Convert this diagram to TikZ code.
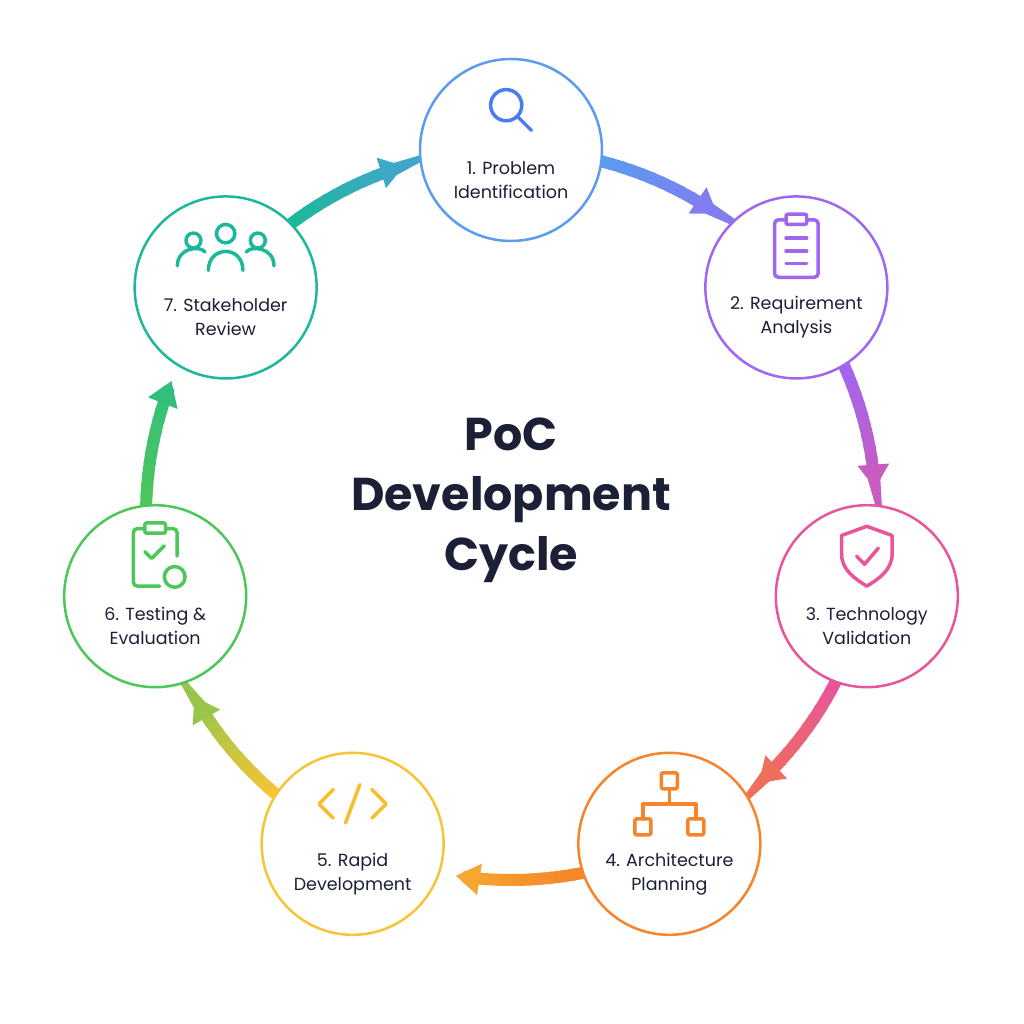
\documentclass[tikz,border=0pt]{standalone}
\usepackage{fontspec}
\setmainfont{Poppins}
\usetikzlibrary{arrows.meta}
\definecolor{c1}{HTML}{5B9BF0}
\definecolor{c2}{HTML}{A066F0}
\definecolor{c3}{HTML}{E8559A}
\definecolor{c4}{HTML}{F5842A}
\definecolor{c5}{HTML}{F7C436}
\definecolor{c6}{HTML}{4CC75A}
\definecolor{c7}{HTML}{1DB89A}
\definecolor{ink}{HTML}{1B2036}
\tikzset{
 stage/.style={circle,draw=#1,line width=2.5pt,fill=white,minimum size=182pt,inner sep=0pt},
 lbl/.style={font=\fontsize{17.5}{24}\selectfont,text=ink,align=center},
 ico/.style={line width=3.5pt,line cap=round,line join=round,draw=#1},
}
\begin{document}
\begin{tikzpicture}[x=1pt,y=1pt]
\fill[white] (0,0) rectangle (1024,1024);
\useasboundingbox (0,0) rectangle (1024,1024);
\coordinate (C) at (511,509);
\def\R{365}
% gradient arrows
\foreach \k in {1,...,7}{
  \pgfmathtruncatemacro\nk{mod(\k,7)+1}
  \pgfmathsetmacro\sa{90-(\k-1)*51.4286-14}
  \pgfmathsetmacro\ea{90-\k*51.4286+17}
  \foreach \i in {0,...,11}{
    \pgfmathsetmacro\aa{\sa+(\ea-\sa)*\i/12}
    \pgfmathsetmacro\bb{\sa+(\ea-\sa)*(\i+1)/12}
    \pgfmathtruncatemacro\p{55*\i/11}
    \ifnum\i<11
      \draw[line width=12pt,color=c\nk!\p!c\k] ([shift={(C)}]\aa:\R) arc[start angle=\aa,end angle=\bb-0.4,radius=\R];
    \else
      \draw[line width=12pt,color=c\nk!\p!c\k,-{Triangle[length=24pt,width=30pt]}] ([shift={(C)}]\aa:\R) arc[start angle=\aa,end angle=\bb,radius=\R];
    \fi
  }
}
% stages
\foreach \k/\t in {1/{1. Problem\\Identification},2/{2. Requirement\\Analysis},3/{3. Technology\\Validation},4/{4. Architecture\\Planning},5/{5. Rapid\\Development},6/{6. Testing \&\\Evaluation},7/{7. Stakeholder\\Review}}{
  \pgfmathsetmacro\ang{90-(\k-1)*51.4286}
  \node[stage=c\k] (n\k) at ([shift={(C)}]\ang:\R) {};
  \node[lbl] (t\k) at ([yshift=-30pt]n\k.center) {\t};
}
\node[font=\bfseries\fontsize{46}{60}\selectfont,text=ink,align=center] (title) at (511,524) {PoC\\Development\\Cycle};
% icons
\begin{scope}[shift={([yshift=40pt]n1.center)},scale=1.2]
 \draw[ico=c1!80!blue] (-4,4) circle (13);
 \draw[ico=c1!80!blue] (6,-6) -- (17,-17);
\end{scope}
\begin{scope}[shift={([yshift=40pt]n2.center)},scale=1.15]
 \draw[ico=c2,rounded corners=4pt] (-19,24) rectangle (19,-26);
 \draw[ico=c2,fill=white,rounded corners=2pt] (-9,29) rectangle (9,20);
 \draw[ico=c2] (-9,8) -- (9,8) (-9,-3) -- (9,-3) (-9,-14) -- (9,-14);
\end{scope}
\begin{scope}[shift={([yshift=40pt]n3.center)},scale=1.15]
 \draw[ico=c3] (0,26) -- (22,18) -- (22,2) .. controls (22,-12) and (10,-20) .. (0,-26) .. controls (-10,-20) and (-22,-12) .. (-22,2) -- (-22,18) -- cycle;
 \draw[ico=c3] (-9,0) -- (-2,-7) -- (10,7);
\end{scope}
\begin{scope}[shift={([yshift=40pt]n4.center)},scale=1.15]
 \draw[ico=c4,rounded corners=2pt] (-7,13) rectangle (7,27) (-30,-13) rectangle (-16,-27) (16,-13) rectangle (30,-27);
 \draw[ico=c4] (0,13) -- (0,0) (-23,-13) -- (-23,0) -- (23,0) -- (23,-13);
\end{scope}
\begin{scope}[shift={([yshift=40pt]n5.center)},scale=1.2]
 \draw[ico=c5!90!orange] (-16,12) -- (-28,0) -- (-16,-12);
 \draw[ico=c5!90!orange] (16,12) -- (28,0) -- (16,-12);
 \draw[ico=c5!90!orange] (6,16) -- (-6,-16);
\end{scope}
\begin{scope}[shift={([yshift=40pt]n6.center)},scale=1.15]
 \draw[ico=c6,rounded corners=4pt] (4,-26) -- (-19,-26) -- (-19,24) -- (19,24) -- (19,0);
 \draw[ico=c6,fill=white,rounded corners=2pt] (-9,29) rectangle (9,20);
 \draw[ico=c6] (-9,4) -- (-3,-2) -- (8,9);
 \draw[ico=c6,fill=white] (17,-18) circle (9);
\end{scope}
\begin{scope}[shift={([yshift=40pt]n7.center)},scale=1.15]
 \draw[ico=c7] (0,12) circle (8) (-28,6) circle (6.5) (28,6) circle (6.5);
 \draw[ico=c7] (-15,-20) .. controls (-15,2) and (15,2) .. (15,-20);
 \draw[ico=c7] (-42,-16) .. controls (-42,0) and (-22,2) .. (-18,-4);
 \draw[ico=c7] (42,-16) .. controls (42,0) and (22,2) .. (18,-4);
\end{scope}
\end{tikzpicture}
\end{document}
